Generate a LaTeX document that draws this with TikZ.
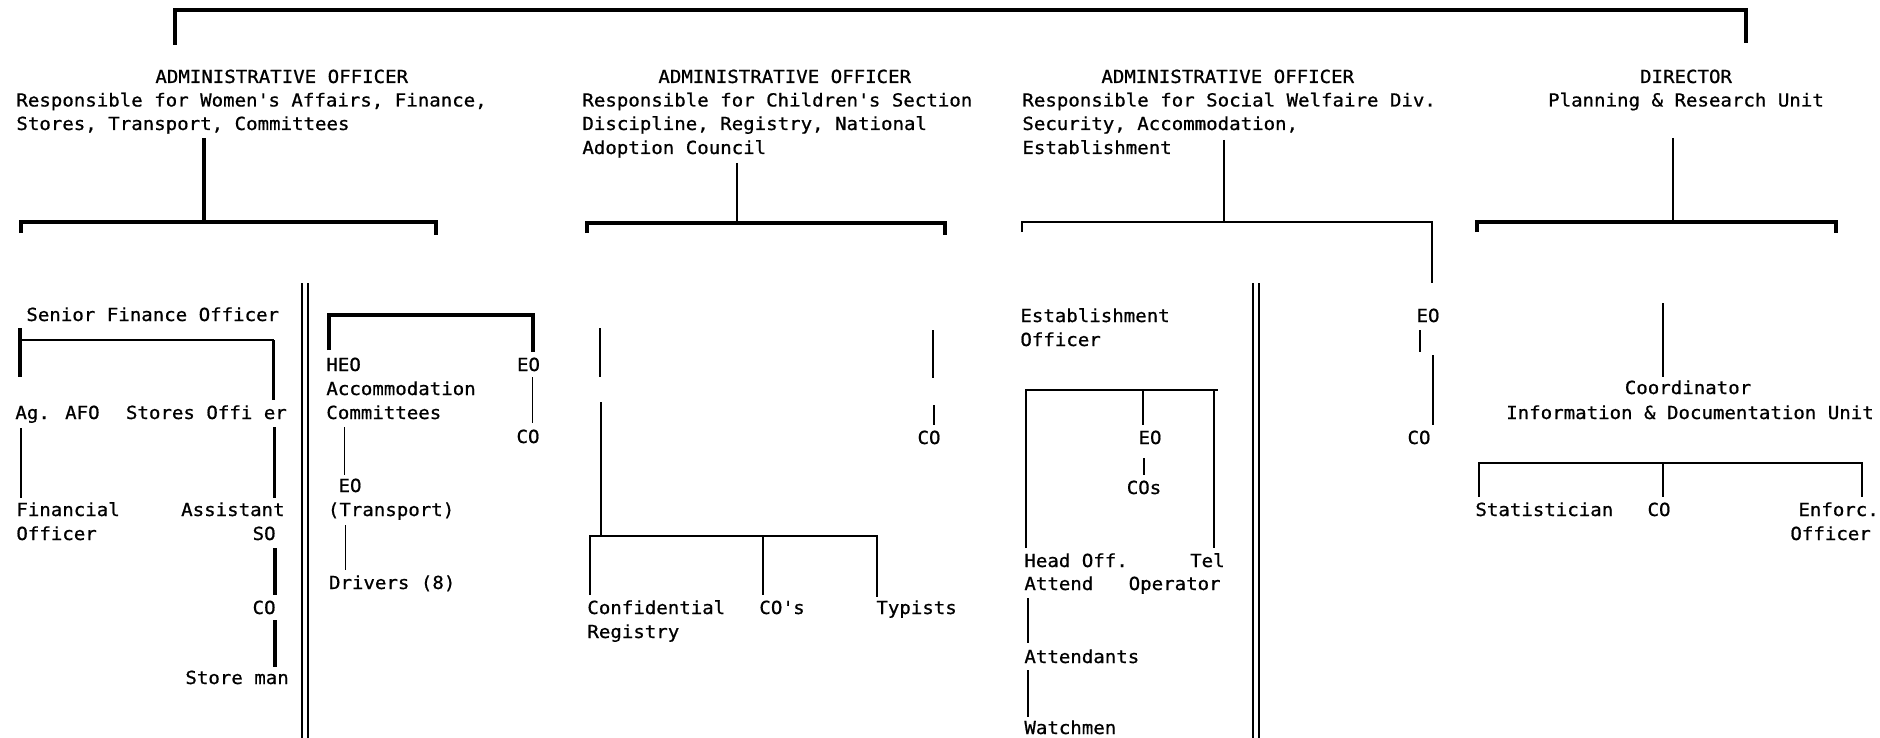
\documentclass[tikz,border=0pt]{standalone}
\usepackage{fontspec}
\newfontfamily\mono[FakeStretch=1.06,FakeBold=0.8]{DejaVu Sans Mono}
\newcommand{\q}{\textquotesingle}
\begin{document}
\begin{tikzpicture}[x=0.5pt,y=-0.5pt,
  txt/.style={anchor=base west,inner sep=0pt,font={\mono\fontsize{9}{12}\selectfont}},
  ctxt/.style={txt,anchor=base},
  rtxt/.style={txt,anchor=base east},
  thk/.style={line width=1.6pt},
  med/.style={line width=1.1pt},
  thn/.style={line width=0.6pt}]
\useasboundingbox (0,0) rectangle (1880,738);

% ---------- top bracket
\coordinate (t1) at (175,45); \coordinate (t2) at (175,10);
\coordinate (t3) at (1746,10); \coordinate (t4) at (1746,43);
\draw[thk] (t1) -- (t2) -- (t3) -- (t4);

% ---------- column 1 head
\node[txt] (h1a) at (155,83) {ADMINISTRATIVE OFFICER};
\node[txt] (h1b) at (16,106.5) {Responsible for Women\q s Affairs, Finance,};
\node[txt] (h1c) at (16,130) {Stores, Transport, Committees};
\coordinate (c1v1) at (204,138); \coordinate (c1v2) at (204,222);
\coordinate (c1l1) at (21,233); \coordinate (c1l2) at (21,222);
\coordinate (c1r1) at (436,222); \coordinate (c1r2) at (436,235);
\draw[thk] (c1v1) -- (c1v2);
\draw[thk] (c1l1) -- (c1l2) -- (c1r1) -- (c1r2);

% ---------- column 2 head
\node[txt] (h2a) at (658,83) {ADMINISTRATIVE OFFICER};
\node[txt] (h2b) at (582,106.5) {Responsible for Children\q s Section};
\node[txt] (h2c) at (582,130) {Discipline, Registry, National};
\node[txt] (h2d) at (582,154) {Adoption Council};
\coordinate (c2v1) at (737,163); \coordinate (c2v2) at (737,223);
\coordinate (c2l1) at (587,233); \coordinate (c2l2) at (587,223);
\coordinate (c2r1) at (945,223); \coordinate (c2r2) at (945,235);
\draw[med] (c2v1) -- (c2v2);
\draw[thk] (c2l1) -- (c2l2) -- (c2r1) -- (c2r2);

% ---------- column 3 head
\node[txt] (h3a) at (1101,83) {ADMINISTRATIVE OFFICER};
\node[txt] (h3b) at (1022,106.5) {Responsible for Social Welfaire Div.};
\node[txt] (h3c) at (1022,130) {Security, Accommodation,};
\node[txt] (h3d) at (1022,154) {Establishment};
\coordinate (c3v1) at (1224,140); \coordinate (c3v2) at (1224,222);
\coordinate (c3l1) at (1022,232); \coordinate (c3l2) at (1022,222);
\coordinate (c3r1) at (1432,222); \coordinate (c3r2) at (1432,283);
\draw[thn] (c3v1) -- (c3v2);
\draw[med] (c3l1) -- (c3l2) -- (c3r1) -- (c3r2);

% ---------- column 4 head
\node[ctxt] (h4a) at (1686,83) {DIRECTOR};
\node[ctxt] (h4b) at (1686,106.5) {Planning \& Research Unit};
\coordinate (c4v1) at (1673,138); \coordinate (c4v2) at (1673,222);
\coordinate (c4l1) at (1477,232); \coordinate (c4l2) at (1477,222);
\coordinate (c4r1) at (1836,222); \coordinate (c4r2) at (1836,233);
\draw[med] (c4v1) -- (c4v2);
\draw[thk] (c4l1) -- (c4l2) -- (c4r1) -- (c4r2);

% ---------- finance block
\node[txt] (sfo) at (26,321) {Senior Finance Officer};
\coordinate (sf1) at (20,328); \coordinate (sf2) at (20,340); \coordinate (sf3) at (20,377);
\coordinate (sf4) at (273.5,340); \coordinate (sf5) at (273.5,400);
\draw[thk] (sf1) -- (sf3);
\draw[med] (sf2) -- (sf4);
\draw[thk] (sf4) -- (sf5);
\node[txt] (afo) at (15,419) {Ag. AFO};
\node[txt] (sto) at (125.6,419) {Stores Offi er};
\coordinate (af1) at (21,428); \coordinate (af2) at (21,498);
\coordinate (st1) at (274.5,427); \coordinate (st2) at (274.5,498);
\draw[med] (af1) -- (af2);
\draw[thk] (st1) -- (st2);
\node[txt] (fin1) at (16,516) {Financial};
\node[txt] (fin2) at (16,540) {Officer};
\node[rtxt] (aso1) at (285,516) {Assistant};
\node[rtxt] (aso2) at (276,540) {SO};
\coordinate (so1) at (275,548); \coordinate (so2) at (275,595);
\draw[thk] (so1) -- (so2);
\node[rtxt] (co1) at (276,614) {CO};
\coordinate (co1a) at (275,620); \coordinate (co1b) at (275,667);
\draw[thk] (co1a) -- (co1b);
\node[txt] (sman) at (185,684) {Store man};

% double separator 1
\coordinate (d1a) at (302,283); \coordinate (d1b) at (302,738);
\coordinate (d1c) at (308,283); \coordinate (d1d) at (308,738);
\draw[med] (d1a) -- (d1b); \draw[med] (d1c) -- (d1d);

% ---------- HEO block
\coordinate (hb1) at (329,350); \coordinate (hb2) at (329,315);
\coordinate (hb3) at (533,315); \coordinate (hb4) at (533,352);
\draw[thk] (hb1) -- (hb2) -- (hb3) -- (hb4);
\node[txt] (heo1) at (326,371) {HEO};
\node[txt] (heo2) at (326,395) {Accommodation};
\node[txt] (heo3) at (326,419) {Committees};
\node[ctxt] (eoA) at (528.5,371) {EO};
\coordinate (ea1) at (532.5,377); \coordinate (ea2) at (532.5,423);
\draw[thn] (ea1) -- (ea2);
\node[ctxt] (coA) at (528,443) {CO};
\coordinate (hv1) at (344.5,427); \coordinate (hv2) at (344.5,475);
\draw[thn] (hv1) -- (hv2);
\node[ctxt] (eoT) at (350,492) {EO};
\node[txt] (trn) at (327.5,516) {(Transport)};
\coordinate (tv1) at (345.6,525); \coordinate (tv2) at (345.6,570);
\draw[thn] (tv1) -- (tv2);
\node[txt] (drv) at (328.6,589) {Drivers (8)};

% ---------- column 2 lower
\coordinate (l2a) at (600,328); \coordinate (l2b) at (600,377);
\draw[med] (l2a) -- (l2b);
\coordinate (r2a) at (933,330); \coordinate (r2b) at (933,378);
\draw[med] (r2a) -- (r2b);
\coordinate (r2c) at (934,405); \coordinate (r2d) at (934,425);
\draw[thn] (r2c) -- (r2d);
\node[ctxt] (coB) at (929,444) {CO};
\coordinate (l2c) at (601,402); \coordinate (l2d) at (601,536);
\draw[med] (l2c) -- (l2d);
\coordinate (rb1) at (590,595); \coordinate (rb2) at (590,536);
\coordinate (rb3) at (877,536); \coordinate (rb4) at (877,597);
\coordinate (rb5) at (763,536); \coordinate (rb6) at (763,595);
\draw[thn] (rb1) -- (rb2) -- (rb3) -- (rb4);
\draw[thn] (rb5) -- (rb6);
\node[txt] (conf1) at (587,614) {Confidential};
\node[txt] (conf2) at (587,638) {Registry};
\node[txt] (cos) at (759,614) {CO\q s};
\node[txt] (typ) at (876,614) {Typists};

% ---------- column 3 lower
\node[txt] (est1) at (1020,322) {Establishment};
\node[txt] (est2) at (1020,346) {Officer};
\node[ctxt] (eoC) at (1428,322) {EO};
\coordinate (ec1) at (1420,330); \coordinate (ec2) at (1420,352);
\coordinate (ec3) at (1433,355); \coordinate (ec4) at (1433,425);
\draw[thn] (ec1) -- (ec2);
\draw[thn] (ec3) -- (ec4);
\node[ctxt] (coC) at (1419,444) {CO};

% double separator 2
\coordinate (d2a) at (1253,283); \coordinate (d2b) at (1253,738);
\coordinate (d2c) at (1259,283); \coordinate (d2d) at (1259,738);
\draw[med] (d2a) -- (d2b); \draw[med] (d2c) -- (d2d);

\coordinate (eb1) at (1026,548); \coordinate (eb2) at (1026,390);
\coordinate (eb3) at (1218,390); \coordinate (eb4) at (1143,390);
\coordinate (eb5) at (1143,425); \coordinate (eb6) at (1214,390);
\coordinate (eb7) at (1214,548);
\draw[thn] (eb1) -- (eb2) -- (eb3);
\draw[thn] (eb4) -- (eb5);
\draw[thn] (eb6) -- (eb7);
\node[ctxt] (eoD) at (1150,444) {EO};
\coordinate (ed1) at (1144,458); \coordinate (ed2) at (1144,475);
\draw[thn] (ed1) -- (ed2);
\node[ctxt] (cosD) at (1144,494) {COs};
\node[txt] (hoa1) at (1024,567) {Head Off.};
\node[txt] (hoa2) at (1024,590) {Attend};
\node[rtxt] (tel1) at (1225,567) {Tel};
\node[rtxt] (tel2) at (1221,590) {Operator};
\coordinate (at1) at (1028,598); \coordinate (at2) at (1028,643);
\draw[thn] (at1) -- (at2);
\node[txt] (att) at (1024,663) {Attendants};
\coordinate (at3) at (1028,670); \coordinate (at4) at (1028,717);
\draw[thn] (at3) -- (at4);
\node[txt] (wat) at (1024,734) {Watchmen};

% ---------- column 4 lower
\coordinate (p1) at (1663,303); \coordinate (p2) at (1663,377);
\draw[thn] (p1) -- (p2);
\node[ctxt] (coord1) at (1688,394) {Coordinator};
\node[ctxt] (coord2) at (1690,419) {Information \& Documentation Unit};
\coordinate (pb1) at (1479,497); \coordinate (pb2) at (1479,463);
\coordinate (pb3) at (1862,463); \coordinate (pb4) at (1862,497);
\coordinate (pb5) at (1663,463); \coordinate (pb6) at (1663,497);
\draw[thn] (pb1) -- (pb2) -- (pb3) -- (pb4);
\draw[thn] (pb5) -- (pb6);
\node[txt] (stat) at (1475,516) {Statistician};
\node[ctxt] (coE) at (1659,516) {CO};
\node[txt] (enf1) at (1798,516) {Enforc.};
\node[txt] (enf2) at (1790,540) {Officer};
\end{tikzpicture}
\end{document}
